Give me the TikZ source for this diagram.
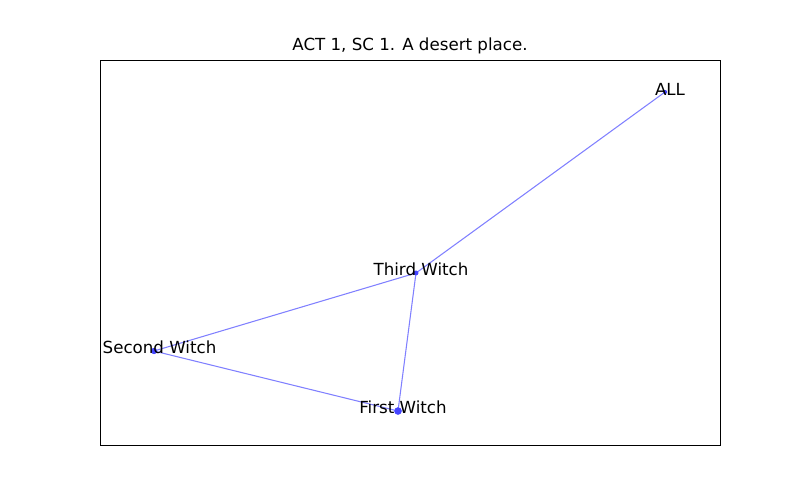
\documentclass[tikz,border=0pt]{standalone}
\usepackage{fontspec}
\setmainfont{DejaVu Sans}
\definecolor{edgeblue}{HTML}{8080FF}
\definecolor{nodeblue}{HTML}{4545FF}
\begin{document}
\begin{tikzpicture}[x=0.75pt,y=-0.75pt,
  edge/.style={draw=edgeblue,line width=0.8pt},
  dot/.style={circle,fill=nodeblue,inner sep=0pt,minimum size=#1},
  lbl/.style={font=\fontsize{12.5}{14}\selectfont,inner sep=0pt,anchor=center},
  frame/.style={draw=black,line width=0.65pt}]
\useasboundingbox (0,0) rectangle (800,500);
\draw[frame] (100,60) rectangle (720,445);
\node[font=\fontsize{12.5}{14}\selectfont] (title) at (410,46) {ACT 1, SC 1. A desert place.};
% nodes
\node[dot=3pt] (all) at (665,92) {};
\node[dot=3.5pt] (third) at (416,273) {};
\node[dot=4.5pt] (second) at (154,351) {};
\node[dot=5.5pt] (first) at (398,411) {};
% edges
\draw[edge] (all.center) -- (third.center);
\draw[edge] (third.center) -- (second.center);
\draw[edge] (third.center) -- (first.center);
\draw[edge] (second.center) -- (first.center);
\node[dot=3pt] at (all) {};
\node[dot=3.5pt] at (third) {};
\node[dot=4.5pt] at (second) {};
\node[dot=5.5pt] at (first) {};
% labels
\node[lbl] (lall) at (670,89) {ALL};
\node[lbl] (lthird) at (421,269) {Third Witch};
\node[lbl] (lsecond) at (159.5,347) {Second Witch};
\node[lbl] (lfirst) at (403,407) {First Witch};
\end{tikzpicture}
\end{document}
